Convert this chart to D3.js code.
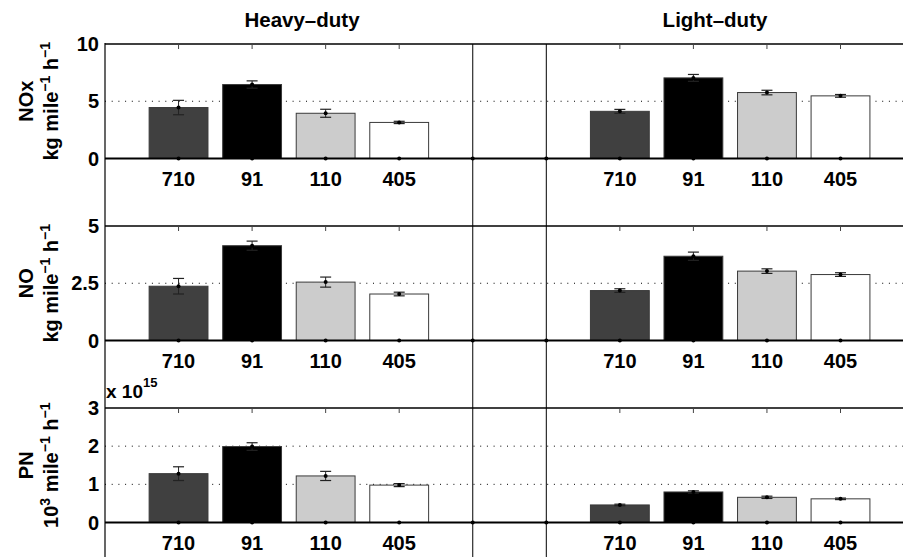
<!DOCTYPE html>
<html><head><meta charset="utf-8">
<script src="https://cdn.jsdelivr.net/npm/d3@7"></script>
<style>
body{margin:0;background:#fff;}
svg{display:block;font-family:"Liberation Sans",Arial,Helvetica,sans-serif;font-weight:bold;}
</style></head>
<body><svg id="c" width="903" height="557"></svg>
<script>
const sites = ["710", "91", "110", "405"];
const groups = ["Heavy–duty", "Light–duty"];
const barColors = ["#404040", "#000000", "#cccccc", "#ffffff"];
const heavyPos = [1, 2, 3, 4];
const lightPos = [7, 8, 9, 10];
const sepPos = [5, 6];

const noxHeavy = [4.45, 6.46, 3.95, 3.15];
const noxHeavyErr = [0.63, 0.32, 0.35, 0.10];
const noxLight = [4.12, 7.04, 5.76, 5.47];
const noxLightErr = [0.17, 0.30, 0.20, 0.12];

const noHeavy = [2.37, 4.14, 2.55, 2.03];
const noHeavyErr = [0.34, 0.20, 0.22, 0.08];
const noLight = [2.18, 3.68, 3.03, 2.88];
const noLightErr = [0.08, 0.18, 0.10, 0.08];

const pnHeavy = [1.28, 1.99, 1.22, 0.98];
const pnHeavyErr = [0.18, 0.10, 0.12, 0.04];
const pnLight = [0.46, 0.80, 0.66, 0.62];
const pnLightErr = [0.02, 0.03, 0.03, 0.02];

const yMax = [10, 5, 3];
const yTicks = [[0, 5, 10], [0, 2.5, 5], [0, 1, 2, 3]];
const yTickLabels = [["0", "5", "10"], ["0", "2.5", "5"], ["0", "1", "2", "3"]];
const yLabel1 = ["NOx", "NO", "PN"];

const panels = [
  {h: noxHeavy, he: noxHeavyErr, l: noxLight, le: noxLightErr},
  {h: noHeavy, he: noHeavyErr, l: noLight, le: noLightErr},
  {h: pnHeavy, he: pnHeavyErr, l: pnLight, le: pnLightErr}
];

const svg = d3.select("#c");
const x = d3.scaleLinear().domain([0, 11]).range([105, 105 + 11 * 73.55]);
const barW = 0.8 * 73.55;
const panelTop = [44, 226, 408];
const panelH = 114.5;
const FS = 20;

// headers
svg.append("text").attr("x", 302).attr("y", 27).attr("text-anchor", "middle").attr("font-size", 20.5).text(groups[0]);
svg.append("text").attr("x", 715).attr("y", 27).attr("text-anchor", "middle").attr("font-size", 20.5).text(groups[1]);

panels.forEach((p, i) => {
  const top = panelTop[i];
  const y = d3.scaleLinear().domain([0, yMax[i]]).range([top + panelH, top]);
  const g = svg.append("g");
  const base = y(0);

  yTicks[i].filter(t => t > 0 && t < yMax[i]).forEach(t => {
    g.append("line").attr("x1", x(0)).attr("x2", 903).attr("y1", y(t)).attr("y2", y(t))
      .attr("stroke", "#000").attr("stroke-width", 1).attr("stroke-dasharray", "1,5.7");
  });

  const data = [];
  p.h.forEach((v, k) => data.push({pos: heavyPos[k], v, e: p.he[k], c: barColors[k], s: sites[k]}));
  p.l.forEach((v, k) => data.push({pos: lightPos[k], v, e: p.le[k], c: barColors[k], s: sites[k]}));

  g.selectAll("rect.bar").data(data).join("rect").attr("class", "bar")
    .attr("x", d => x(d.pos) - barW / 2).attr("width", barW)
    .attr("y", d => y(d.v)).attr("height", d => base - y(d.v))
    .attr("fill", d => d.c).attr("stroke", "#3a3a3a").attr("stroke-width", 1);

  const eb = g.selectAll("g.eb").data(data).join("g").attr("class", "eb");
  eb.append("line").attr("x1", d => x(d.pos)).attr("x2", d => x(d.pos))
    .attr("y1", d => y(d.v - d.e)).attr("y2", d => y(d.v + d.e)).attr("stroke", "#222").attr("stroke-width", 1);
  [-1, 1].forEach(sg => {
    eb.append("line").attr("x1", d => x(d.pos) - 5.5).attr("x2", d => x(d.pos) + 5.5)
      .attr("y1", d => y(d.v + sg * d.e)).attr("y2", d => y(d.v + sg * d.e)).attr("stroke", "#222").attr("stroke-width", 1.2);
  });
  eb.append("circle").attr("cx", d => x(d.pos)).attr("cy", d => y(d.v)).attr("r", 2).attr("fill", "#000");

  const allPos = heavyPos.concat(sepPos, lightPos);
  g.selectAll("circle.bd").data(allPos).join("circle").attr("class", "bd")
    .attr("cx", d => x(d)).attr("cy", base).attr("r", 2).attr("fill", "#000");

  g.append("line").attr("x1", x(0)).attr("x2", 903).attr("y1", top).attr("y2", top).attr("stroke", "#000").attr("stroke-width", 1.5);
  g.append("line").attr("x1", x(0)).attr("x2", 903).attr("y1", base).attr("y2", base).attr("stroke", "#000").attr("stroke-width", 2);

  g.selectAll("line.tt").data(heavyPos.concat(lightPos)).join("line").attr("class", "tt")
    .attr("x1", d => x(d)).attr("x2", d => x(d)).attr("y1", top).attr("y2", top + 5)
    .attr("stroke", "#444").attr("stroke-width", 1);

  g.selectAll("text.xl").data(data).join("text").attr("class", "xl")
    .attr("x", d => x(d.pos)).attr("y", base + 27).attr("text-anchor", "middle")
    .attr("font-size", FS).text(d => d.s);

  yTicks[i].forEach((t, k) => {
    g.append("text").attr("x", 99).attr("y", y(t) + 7).attr("text-anchor", "end")
      .attr("font-size", FS).text(yTickLabels[i][k]);
  });

  const cy = (top + base) / 2;
  g.append("text").attr("transform", `translate(33,${cy}) rotate(-90)`).attr("text-anchor", "middle")
    .attr("font-size", 20).text(yLabel1[i]);
  const t2 = g.append("text").attr("transform", `translate(58,${cy}) rotate(-90)`).attr("text-anchor", "middle")
    .attr("font-size", 20);
  if (i < 2) {
    t2.append("tspan").text("kg mile");
  } else {
    t2.append("tspan").text("10");
    t2.append("tspan").attr("dy", -8).attr("font-size", 14).text("3");
    t2.append("tspan").attr("dy", 8).text(" mile");
  }
  t2.append("tspan").attr("dy", -8).attr("font-size", 14).text("−1");
  t2.append("tspan").attr("dy", 8).text(" h");
  t2.append("tspan").attr("dy", -8).attr("font-size", 14).text("−1");
});

const ex = svg.append("text").attr("x", 106).attr("y", 398).attr("font-size", 19);
ex.append("tspan").text("x 10");
ex.append("tspan").attr("dy", -11).attr("font-size", 13).text("15");

svg.append("line").attr("x1", x(0)).attr("x2", x(0)).attr("y1", 43).attr("y2", 557).attr("stroke", "#000").attr("stroke-width", 1.2);
sepPos.forEach(s => {
  svg.append("line").attr("x1", x(s)).attr("x2", x(s)).attr("y1", 44).attr("y2", 557).attr("stroke", "#000").attr("stroke-width", 1);
});
</script>
</body></html>
